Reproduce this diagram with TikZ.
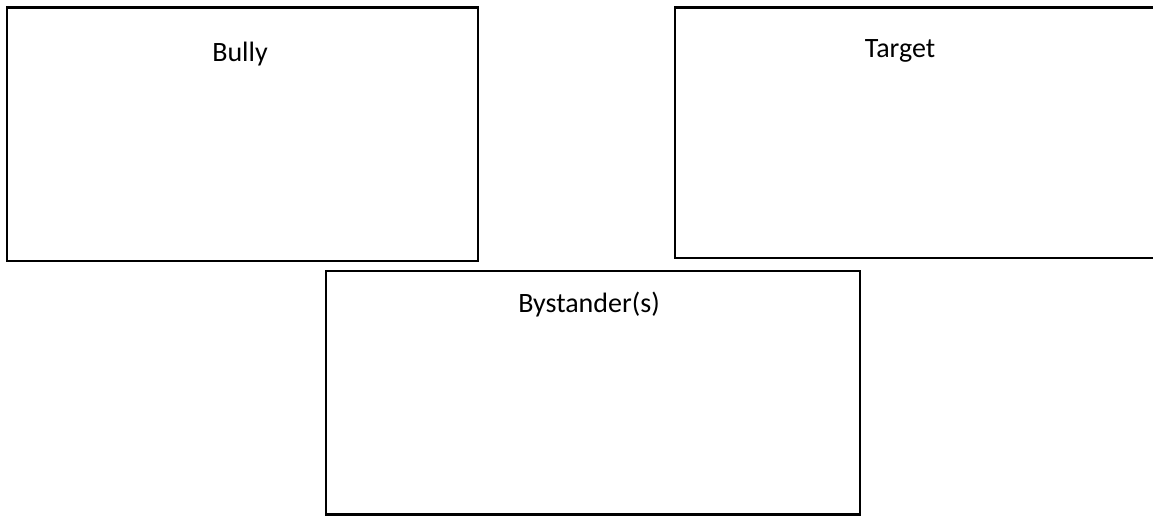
\documentclass[tikz,border=0pt]{standalone}
\usepackage{fontspec}
\setmainfont{Carlito}
\usetikzlibrary{positioning}

\begin{document}
\begin{tikzpicture}[x=1pt, y=-1pt,
    role/.style={draw=black, line width=2.6pt},
    rolename/.style={anchor=base, inner sep=0pt, font=\fontsize{28}{34}\selectfont}]
  \useasboundingbox (0,0) rectangle (1153,515);
  % Bully box
  \draw[role] (7,7.5) rectangle (478,261);
  \node[rolename] (bully) at (240,61) {Bully};
  % Target box (runs off the right edge)
  \draw[role] (675,7.5) rectangle (1165,258);
  \node[rolename] (target) at (900,57) {Target};
  % Bystander box (runs off the bottom edge)
  \draw[role] (326,271) rectangle (860,514.5);
  \node[rolename] (bystander) at (589,312) {Bystander(s)};
\end{tikzpicture}
\end{document}
